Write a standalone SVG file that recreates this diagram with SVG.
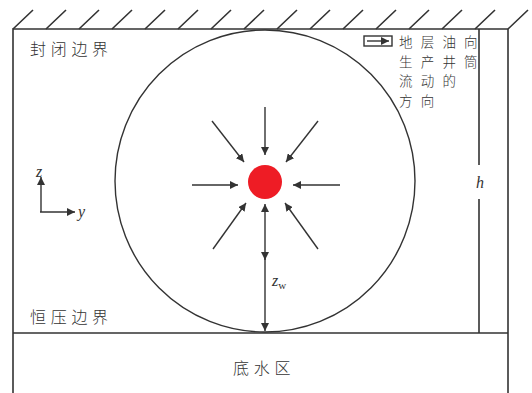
<svg xmlns="http://www.w3.org/2000/svg" width="532" height="393" viewBox="0 0 532 393">
<style>
.ln{stroke:#333;stroke-width:1.6;fill:none}
.ar{stroke:#333;stroke-width:1.4;fill:none;marker-end:url(#ah)}
.cn{font-family:"Noto Sans CJK SC",sans-serif;font-weight:300;font-size:16px;fill:#333;letter-spacing:4.7px}
.lg{font-family:"Noto Sans CJK SC",sans-serif;font-weight:300;font-size:13.5px;fill:#333;letter-spacing:8.2px}
.it{font-family:"Liberation Serif",serif;font-style:italic;font-size:16px;fill:#333}
</style>
<defs>
<marker id="ah" viewBox="0 0 10 10" refX="10" refY="5" markerWidth="8" markerHeight="8" markerUnits="userSpaceOnUse" orient="auto-start-reverse">
<path d="M0,0 L10,5 L0,10 z" fill="#333"/>
</marker>
</defs>
<rect width="532" height="393" fill="#fff"/>
<g id="boundary">
<path class="ln" d="M13,393 V29 H508 V393 M13,333 H508"/>
<path class="ln" stroke-width="1.2" d="M13,29 l20,-19 M46,29 l20,-19 M79,29 l20,-19 M112,29 l20,-19 M145,29 l20,-19 M178,29 l20,-19 M211,29 l20,-19 M244,29 l20,-19 M277,29 l20,-19 M310,29 l20,-19 M343,29 l20,-19 M376,29 l20,-19 M409,29 l20,-19 M442,29 l20,-19 M475,29 l20,-19 M508,29 l20,-19"/>
</g>
<g id="h-dim">
<path class="ln" d="M479,29 V165 M479,199 V333"/>
<text class="it" x="480" y="188" text-anchor="middle">h</text>
</g>
<g id="reservoir">
<ellipse cx="265" cy="181" rx="150" ry="151" fill="none" stroke="#333" stroke-width="1.4"/>
</g>
<g id="well">
<circle cx="265" cy="182" r="17" fill="#ee1c25"/>
</g>
<g id="connectors">
<line class="ar" x1="265" y1="107" x2="265" y2="155"/>
<line class="ar" x1="192" y1="185" x2="238" y2="185"/>
<line class="ar" x1="340" y1="185" x2="293" y2="185"/>
<line class="ar" x1="212" y1="121" x2="244" y2="162"/>
<line class="ar" x1="318" y1="121" x2="286" y2="162"/>
<line class="ar" x1="213" y1="249" x2="246" y2="203"/>
<line class="ar" x1="318" y1="249" x2="285" y2="203"/>
<line class="ar" x1="265" y1="260" x2="265" y2="204" style="marker-start:url(#ah)"/>
<line class="ar" x1="265" y1="255" x2="265" y2="331"/>
<line class="ar" x1="41" y1="212" x2="41" y2="177"/>
<line class="ar" x1="40" y1="212" x2="75" y2="212"/>
</g>
<g id="labels">
<text class="cn" x="30" y="55">封闭边界</text>
<text class="cn" x="30" y="323">恒压边界</text>
<text class="cn" x="233" y="374">底水区</text>
<text class="it" x="36" y="177">z</text>
<text class="it" x="78" y="217">y</text>
<text class="it" x="272" y="286">z<tspan font-size="11" font-style="normal" dy="3">w</tspan></text>
</g>
<g id="legend">
<rect x="364" y="36" width="28" height="10" fill="none" stroke="#333" stroke-width="1.4"/>
<line class="ar" x1="367" y1="41" x2="389" y2="41"/>
<text class="lg" x="399" y="47">地层油向<tspan x="399" dy="19.7">生产井筒</tspan><tspan x="399" dy="19.7">流动的</tspan><tspan x="399" dy="19.7">方向</tspan></text>
</g>
</svg>
